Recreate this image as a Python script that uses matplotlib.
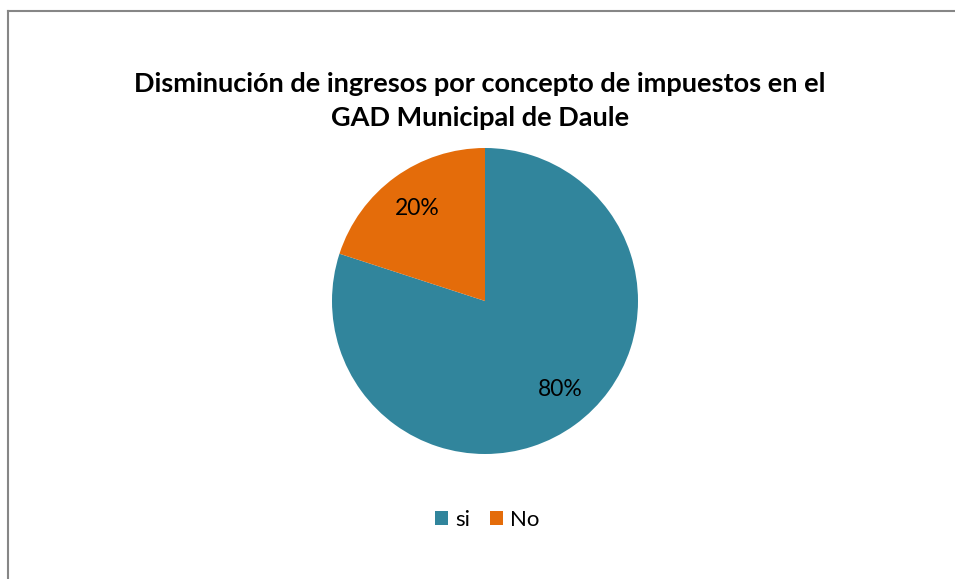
import matplotlib.pyplot as plt
from matplotlib.lines import Line2D

plt.rcParams['font.family'] = ['Lato', 'DejaVu Sans']

labels = ['si', 'No']
values = [80, 20]
colors = ['#31859C', '#E46C0A']
title = 'Disminución de ingresos por concepto de impuestos en el\nGAD Municipal de Daule'

fig = plt.figure(figsize=(9.55, 5.79), dpi=100)
W, H = 955, 579

# border (top and left only are visible)
fig.add_artist(Line2D([7.5 / W, 1], [1 - 10.5 / H, 1 - 10.5 / H], color='#868686', lw=1.5, transform=fig.transFigure))
fig.add_artist(Line2D([7.5 / W, 7.5 / W], [0, 1 - 10.5 / H], color='#868686', lw=1.5, transform=fig.transFigure))

r = 153
cx, cy = 485, 301
ax = fig.add_axes([(cx - r) / W, 1 - (cy + r) / H, 2 * r / W, 2 * r / H])
wedges, texts, autotexts = ax.pie(values, colors=colors, startangle=90, counterclock=False,
                                  autopct='%1.0f%%', pctdistance=0.75, radius=1,
                                  textprops={'fontsize': 16.5, 'color': 'black'})
# Excel places the big-slice label a bit further round than the mid-angle
autotexts[0].set_position((0.49, -0.58))
ax.set_xlim(-1, 1)
ax.set_ylim(-1, 1)
ax.set_aspect('equal')
ax.axis('off')

fig.text(480 / W, 1 - 101 / H, title, ha='center', va='center', fontsize=19.5,
         fontweight='bold', linespacing=1.45)

fig.legend(wedges, labels, loc='center', bbox_to_anchor=(487 / W, 1 - 520 / H), ncol=2,
           frameon=False, fontsize=16, handlelength=0.6, handleheight=0.6,
           handletextpad=0.3, columnspacing=0.9)

fig.savefig('out.png', dpi=100, facecolor='white')
